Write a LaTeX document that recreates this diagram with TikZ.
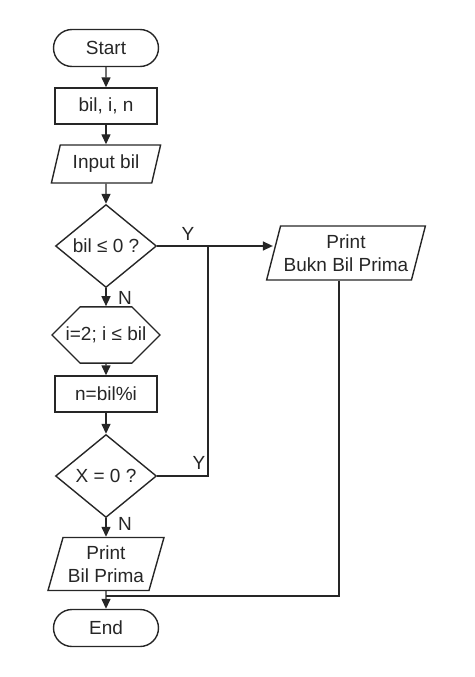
\documentclass[tikz,border=0pt]{standalone}
\usepackage{fontspec}
\setmainfont{Liberation Sans}
\usetikzlibrary{shapes.geometric, shapes.misc, arrows.meta}
\begin{document}
\begin{tikzpicture}[x=1pt, y=-1pt,
      every node/.style={font=\fontsize{19}{22.5}\selectfont, text=black!85},
      line/.style={line width=1.4pt, draw=black!85},
      term/.style={line, rounded rectangle, minimum width=105pt, minimum height=37pt, inner sep=0pt},
      proc/.style={line, rectangle, minimum width=102pt, minimum height=36pt, inner sep=0pt},
      io/.style={line, trapezium, trapezium left angle=70, trapezium right angle=110,
        trapezium stretches=true, align=center, inner sep=0pt},
      decide/.style={line, diamond, minimum width=101pt, minimum height=83pt, inner sep=0pt},
      loopbox/.style={line, chamfered rectangle, chamfered rectangle xsep=16pt,
        chamfered rectangle ysep=20pt, minimum width=108pt, minimum height=40pt, inner sep=0pt},
      lbl/.style={inner sep=0pt},
      arrow/.style={line, -{Triangle[length=10pt, width=9pt]}},
    ]
    \useasboundingbox (0,0) rectangle (474,677);

    \node[term] (start) at (106, 48) {Start};
    \node[proc] (vars)  at (106, 106) {bil, i, n};
    \node[io, minimum width=110pt, minimum height=38pt] (input) at (106, 164) {Input bil};
    \node[decide] (cek) at (106, 246) {bil ≤ 0 ?};
    \node[loopbox] (ulang) at (106, 335) {i=2; i ≤ bil};
    \node[proc] (hitung) at (106, 394) {n=bil\%i};
    \node[decide] (sisa) at (106, 476) {X = 0 ?};
    \node[io, minimum width=116pt, minimum height=53pt] (prima) at (106, 564) {Print \\ Bil Prima};
    \node[term] (end) at (106, 628) {End};
    \node[io, minimum width=159pt, minimum height=54pt] (bukan) at (346, 253) {Print \\ Bukn Bil Prima};

    \coordinate (naik) at (208, 246);
    \coordinate (gabung) at (106, 596);
    \coordinate (turun) at (339, 596);

    % Main flow
    \draw[arrow] (start) -- (vars);
    \draw[arrow] (vars) -- (input);
    \draw[arrow] (input) -- (cek);
    \draw[arrow] (cek) -- (ulang);
    \draw[arrow] (ulang) -- (hitung);
    \draw[arrow] (hitung) -- (sisa);
    \draw[arrow] (sisa) -- (prima);
    \draw[arrow] (prima) -- (end);

    % Branch to not prime
    \draw[arrow] (cek.east) -- (cek.east -| bukan.west);
    \draw[line] (sisa.east) -| (naik);
    \draw[line] (bukan.south -| turun) -- (turun) -- (gabung);

    % Labels
    \node[lbl] (y1) at (188, 234) {Y};
    \node[lbl] (y2) at (199, 463) {Y};
    \node[lbl] (n1) at (125, 298) {N};
    \node[lbl] (n2) at (125, 524) {N};
  \end{tikzpicture}
\end{document}
